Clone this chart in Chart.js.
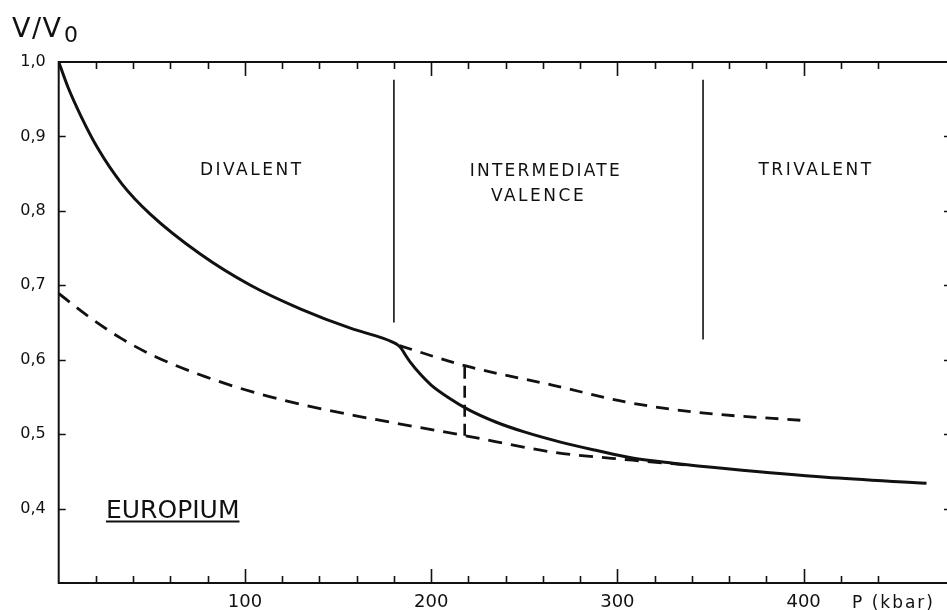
<!DOCTYPE html>
<html>
<head>
<meta charset="utf-8">
<script src="https://cdn.jsdelivr.net/npm/chart.js@4"></script>
<style>
  html, body { margin: 0; padding: 0; background: #fff; overflow: hidden; }
  canvas { display: block; }
</style>
</head>
<body>
<canvas id="chart" width="947" height="610"></canvas>
<script>
// europium, measured V/V0 against pressure P (kbar)
const measuredP = [0, 5, 12, 21, 34, 49, 76, 103, 130, 157, 174, 179, 182, 184, 186, 189, 194, 200, 210, 220, 235, 250, 270, 289, 308, 330, 359, 412, 466];
const measuredV = [1.0, 0.966, 0.927, 0.884, 0.836, 0.796, 0.742, 0.700, 0.668, 0.642, 0.629, 0.624, 0.620, 0.615, 0.607, 0.596, 0.581, 0.566, 0.548, 0.533, 0.516, 0.503, 0.489, 0.478, 0.468, 0.461, 0.4535, 0.442, 0.434];

// divalent branch continued past the transition (upper dashed)
const divalentP = [183, 218, 265, 305, 344, 402];
const divalentV = [0.619, 0.592, 0.566, 0.543, 0.529, 0.518];

// trivalent curve (lower dashed)
const trivalentP = [0, 16, 34, 52, 79, 105, 132, 159, 218, 265, 308, 340];
const trivalentV = [0.689, 0.658, 0.628, 0.604, 0.577, 0.556, 0.539, 0.525, 0.498, 0.476, 0.465, 0.458];

// vertical dashed bar between the two branches
const connectorP = [218, 218];
const connectorV = [0.498, 0.592];

// phase boundaries
const boundaryP = [180, 346];
const boundaryTopV = [0.976, 0.976];
const boundaryBottomV = [0.650, 0.627];

// axis ticks
const xTickValues = [100, 200, 300, 400];
const xTickLabels = ['100', '200', '300', '400'];
const yTickValues = [0.4, 0.5, 0.6, 0.7, 0.8, 0.9, 1.0];
const yTickLabels = ['0,4', '0,5', '0,6', '0,7', '0,8', '0,9', '1,0'];

const FONT = '"DejaVu Sans", sans-serif';
const INK = '#111';

const toPoints = (xs, ys) => xs.map((x, i) => ({ x: x, y: ys[i] }));

// region texts, placed in data units
const notes = [
  { text: 'DIVALENT', p: 103, v: 0.856, size: 17, spacing: 2.5 },
  { text: 'INTERMEDIATE', p: 261, v: 0.855, size: 17, spacing: 2.2 },
  { text: 'VALENCE', p: 257, v: 0.821, size: 17, spacing: 2.5 },
  { text: 'TRIVALENT', p: 406, v: 0.856, size: 17, spacing: 2.5 },
];

const framePlugin = {
  id: 'frame',
  afterDraw(chart) {
    const ctx = chart.ctx;
    const a = chart.chartArea;
    const xs = chart.scales.x;
    const ys = chart.scales.y;
    ctx.save();
    ctx.strokeStyle = INK;
    ctx.lineWidth = 2;
    ctx.beginPath();
    ctx.moveTo(a.right + 2, a.top);
    ctx.lineTo(a.left, a.top);
    ctx.lineTo(a.left, a.bottom);
    ctx.lineTo(a.right + 2, a.bottom);
    ctx.stroke();

    // inward ticks, every 20 kbar, longer every 100
    ctx.lineWidth = 1.6;
    ctx.beginPath();
    xs.ticks.forEach(t => {
      if (t.value <= 0 || t.value % 20 !== 0) return;
      const px = Math.round(xs.getPixelForValue(t.value)) + 0.5;
      const len = t.value % 100 === 0 ? 14 : 7;
      ctx.moveTo(px, a.bottom);
      ctx.lineTo(px, a.bottom - len);
      ctx.moveTo(px, a.top);
      ctx.lineTo(px, a.top + len);
    });
    ys.ticks.forEach(t => {
      const v = Math.round(t.value * 10) / 10;
      if (v <= 0.3 || v >= 1.0) return;
      const py = Math.round(ys.getPixelForValue(v)) + 0.5;
      ctx.moveTo(a.left, py);
      ctx.lineTo(a.left + 7, py);
      ctx.moveTo(a.right + 2, py);
      ctx.lineTo(a.right - 3, py);
    });
    ctx.stroke();

    // axis titles
    ctx.fillStyle = INK;
    ctx.textBaseline = 'alphabetic';
    ctx.textAlign = 'left';
    ctx.font = '27px ' + FONT;
    ctx.letterSpacing = '1.5px';
    ctx.fillText('V/V', 12, 37);
    ctx.letterSpacing = '0px';
    ctx.font = '22px ' + FONT;
    ctx.fillText('0', 64, 42);

    ctx.font = '17px ' + FONT;
    ctx.letterSpacing = '2px';
    ctx.fillText('P (kbar)', 852, 608);
    ctx.letterSpacing = '0px';

    // region labels
    ctx.textAlign = 'center';
    notes.forEach(n => {
      ctx.font = n.size + 'px ' + FONT;
      ctx.letterSpacing = n.spacing + 'px';
      ctx.fillText(n.text, xs.getPixelForValue(n.p) + n.spacing / 2, ys.getPixelForValue(n.v) + 6);
    });
    ctx.letterSpacing = '0px';

    // sample name, underlined
    ctx.textAlign = 'left';
    ctx.font = '25px ' + FONT;
    const ex = xs.getPixelForValue(25.4);
    const ey = ys.getPixelForValue(0.388);
    ctx.fillText('EUROPIUM', ex, ey);
    const w = ctx.measureText('EUROPIUM').width;
    ctx.lineWidth = 1.8;
    ctx.beginPath();
    ctx.moveTo(ex, ey + 4);
    ctx.lineTo(ex + w, ey + 4);
    ctx.stroke();
    ctx.restore();
  }
};

new Chart(document.getElementById('chart'), {
  type: 'scatter',
  data: {
    datasets: [
      {
        data: toPoints(measuredP, measuredV),
        showLine: true, borderColor: INK, borderWidth: 3, pointRadius: 0,
        cubicInterpolationMode: 'monotone'
      },
      {
        data: toPoints(divalentP, divalentV),
        showLine: true, borderColor: INK, borderWidth: 2.8, pointRadius: 0,
        borderDash: [13, 9], cubicInterpolationMode: 'monotone'
      },
      {
        data: toPoints(trivalentP, trivalentV),
        showLine: true, borderColor: INK, borderWidth: 2.8, pointRadius: 0,
        borderDash: [14, 9], cubicInterpolationMode: 'monotone'
      },
      {
        data: toPoints(connectorP, connectorV),
        showLine: true, borderColor: INK, borderWidth: 2.6, pointRadius: 0,
        borderDash: [12, 7]
      },
      {
        data: [{ x: boundaryP[0], y: boundaryTopV[0] }, { x: boundaryP[0], y: boundaryBottomV[0] }],
        showLine: true, borderColor: INK, borderWidth: 1.6, pointRadius: 0
      },
      {
        data: [{ x: boundaryP[1], y: boundaryTopV[1] }, { x: boundaryP[1], y: boundaryBottomV[1] }],
        showLine: true, borderColor: INK, borderWidth: 1.6, pointRadius: 0
      }
    ]
  },
  options: {
    responsive: false,
    animation: false,
    layout: { autoPadding: false, padding: { top: 62, right: 0, left: 0, bottom: 0 } },
    plugins: { legend: { display: false }, tooltip: { enabled: false } },
    scales: {
      x: {
        type: 'linear', min: 0, max: 477,
        grid: { display: false, drawTicks: false },
        border: { display: false },
        afterFit(scale) {
          scale.height = 27;
          scale.paddingLeft = 0;
          scale.paddingRight = 0;
        },
        ticks: {
          stepSize: 20, autoSkip: false, maxRotation: 0, padding: 9,
          color: INK, font: { family: FONT, size: 18 },
          callback(v) {
            const i = xTickValues.indexOf(v);
            return i >= 0 ? xTickLabels[i] : '';
          }
        }
      },
      y: {
        type: 'linear', min: 0.3, max: 1.0,
        grid: { display: false, drawTicks: false },
        border: { display: false },
        afterFit(scale) {
          scale.width = 58.7;
          scale.paddingTop = 0;
          scale.paddingBottom = 0;
        },
        ticks: {
          stepSize: 0.1, autoSkip: false, padding: 13,
          color: INK, font: { family: FONT, size: 16 },
          callback(v) {
            const i = yTickValues.indexOf(Math.round(v * 10) / 10);
            return i >= 0 ? yTickLabels[i] : '';
          }
        }
      }
    }
  },
  plugins: [framePlugin]
});
</script>
</body>
</html>
